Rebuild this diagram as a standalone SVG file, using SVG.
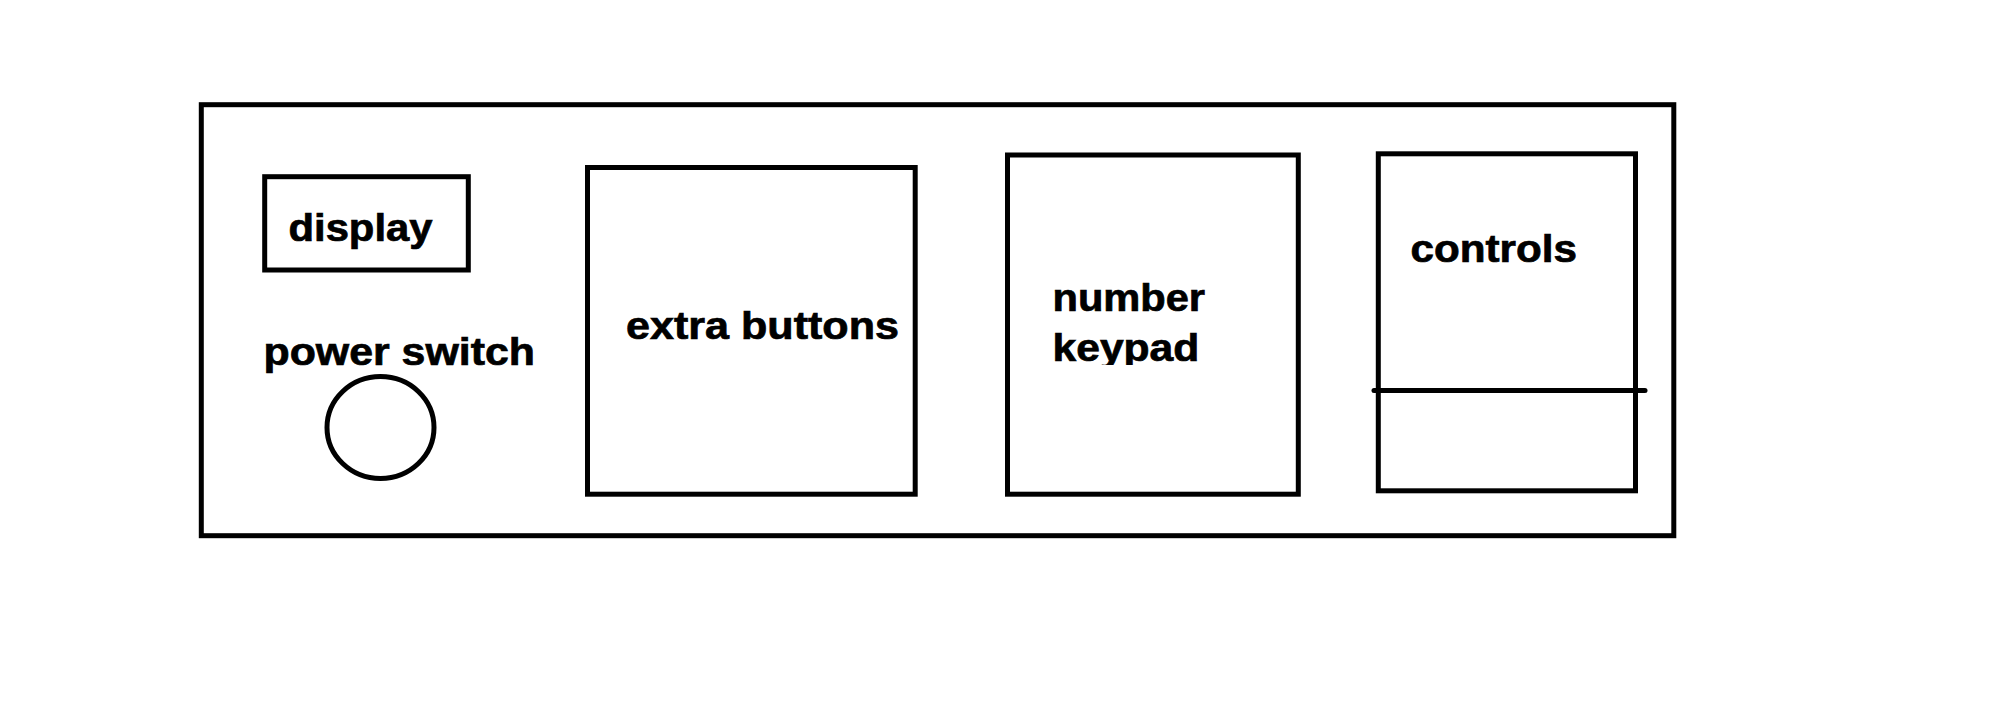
<svg xmlns="http://www.w3.org/2000/svg" width="2010" height="704" viewBox="0 0 2010 704">
<style>
.box{fill:none;stroke:#000;stroke-width:5}
.lbl{font-family:"Liberation Sans",Arial,sans-serif;font-weight:bold;font-size:38px;fill:#000;stroke:#000;stroke-width:0.7}
</style>
<defs>
<clipPath id="kpclip"><rect x="1000" y="150" width="300" height="215"/></clipPath>
</defs>
<rect width="2010" height="704" fill="#fff"/>
<g id="frame"><rect class="box" x="201.3" y="104.7" width="1472.5" height="431"/></g>
<g id="display">
<rect class="box" x="264.7" y="176.7" width="203.6" height="93.3"/>
<text class="lbl" x="288.5" y="240.7" textLength="144" lengthAdjust="spacingAndGlyphs">display</text>
</g>
<g id="power-switch">
<text class="lbl" x="263.5" y="365" textLength="271.5" lengthAdjust="spacingAndGlyphs">power switch</text>
<ellipse class="box" cx="380.5" cy="427.5" rx="53.5" ry="51"/>
</g>
<g id="extra-buttons">
<rect class="box" x="587.5" y="167.5" width="327.7" height="326.7"/>
<text class="lbl" x="626" y="339" textLength="273" lengthAdjust="spacingAndGlyphs">extra buttons</text>
</g>
<g id="number-keypad">
<rect class="box" x="1007.5" y="155" width="290.8" height="339.2"/>
<text class="lbl" x="1052.5" y="310.7" textLength="152.5" lengthAdjust="spacingAndGlyphs">number</text>
<text class="lbl" x="1052.5" y="360.7" textLength="146.8" lengthAdjust="spacingAndGlyphs" clip-path="url(#kpclip)">keypad</text>
</g>
<g id="controls">
<rect class="box" x="1378.3" y="153.8" width="257.2" height="337"/>
<text class="lbl" x="1410.5" y="261.7" textLength="166.5" lengthAdjust="spacingAndGlyphs">controls</text>
</g>
<g id="connectors">
<line x1="1374" y1="390.5" x2="1645" y2="390.5" stroke="#000" stroke-width="5" stroke-linecap="round"/>
</g>
</svg>
